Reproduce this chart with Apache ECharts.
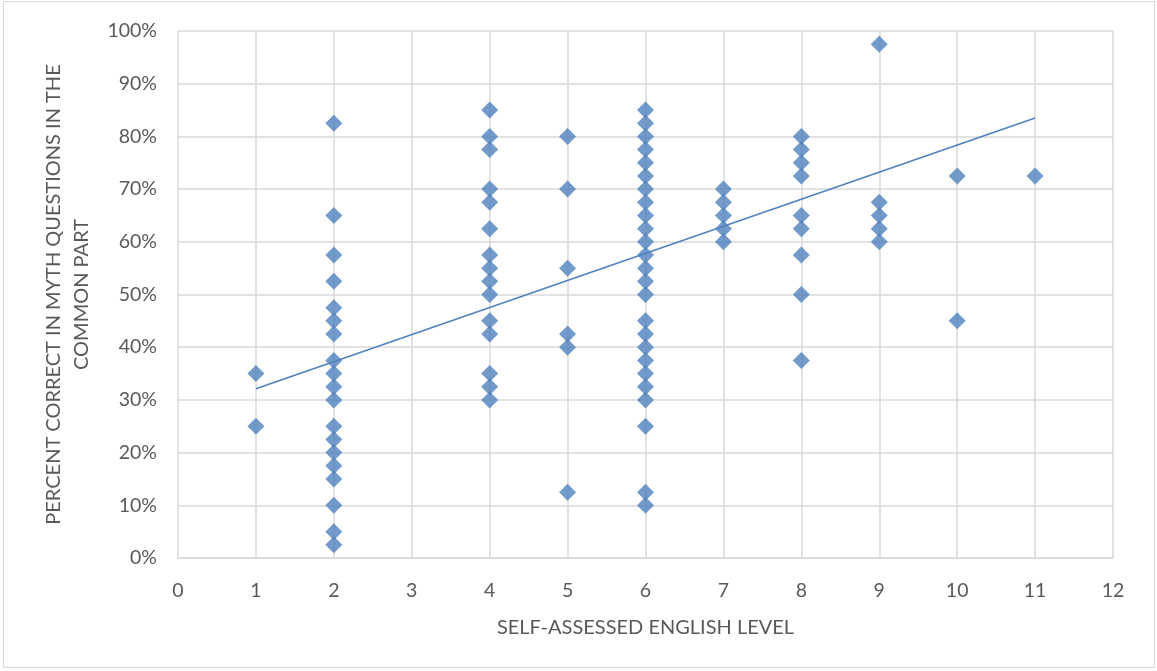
<!DOCTYPE html>
<html>
<head>
<meta charset="utf-8">
<script src="https://cdn.jsdelivr.net/npm/echarts@6/dist/echarts.min.js"></script>
<style>
	html, body {
		margin: 0;
		padding: 0;
		background: #fff;
	}

	#box {
		position: absolute;
		left: 3px;
		top: 1px;
		width: 1152px;
		height: 667px;
		border: 1px solid #d9d9d9;
		box-sizing: border-box;
	}

	#chart {
		position: absolute;
		left: 0;
		top: 0;
		width: 1157px;
		height: 671px;
	}
</style>
</head>

<body>
	<div id="box"></div>
	<div id="chart"></div>
<script>
	// percent correct (0-1) per self-assessed level
	var level1 = [0.35, 0.25];
	var level2 = [0.825, 0.65, 0.575, 0.525, 0.475, 0.45, 0.425, 0.375, 0.35, 0.325, 0.30, 0.25, 0.225, 0.20, 0.175, 0.15, 0.10, 0.05, 0.025];
	var level4 = [0.85, 0.80, 0.775, 0.70, 0.675, 0.625, 0.575, 0.55, 0.525, 0.50, 0.45, 0.425, 0.35, 0.325, 0.30];
	var level5 = [0.80, 0.70, 0.55, 0.425, 0.40, 0.125];
	var level6 = [0.85, 0.825, 0.80, 0.775, 0.75, 0.725, 0.70, 0.675, 0.65, 0.625, 0.60, 0.575, 0.55, 0.525, 0.50,
		0.45, 0.425, 0.40, 0.375, 0.35, 0.325, 0.30, 0.25, 0.125, 0.10];
	var level7 = [0.70, 0.675, 0.65, 0.625, 0.60];
	var level8 = [0.80, 0.775, 0.75, 0.725, 0.65, 0.625, 0.575, 0.50, 0.375];
	var level9 = [0.975, 0.675, 0.65, 0.625, 0.60];
	var level10 = [0.725, 0.45];
	var level11 = [0.725];

	var levels = [1, 2, 4, 5, 6, 7, 8, 9, 10, 11];
	var byLevel = [level1, level2, level4, level5, level6, level7, level8, level9, level10, level11];

	// linear trendline as drawn in the picture (ends at level 1 and 11)
	var trendX = [1, 11];
	var trendY = [0.321, 0.835];

	var points = [];
	for (var i = 0; i < levels.length; i++) {
		for (var j = 0; j < byLevel[i].length; j++) {
			points.push([levels[i], byLevel[i][j]]);
		}
	}
	var trend = trendX.map(function (x, k) { return [x, trendY[k]]; });

	var font = 'Lato';
	var grey = '#595959';
	var chart = echarts.init(document.getElementById('chart'));
	var option = {
		animation: false,
		textStyle: { fontFamily: font },
		grid: { left: 178, right: 44, top: 31, bottom: 113 },
		xAxis: {
			type: 'value',
			min: 0,
			max: 12,
			interval: 1,
			name: 'SELF-ASSESSED ENGLISH LEVEL',
			nameLocation: 'middle',
			nameGap: 60,
			nameTextStyle: { color: grey, fontSize: 20, fontFamily: font },
			axisLine: { show: true, lineStyle: { color: '#d9d9d9' } },
			axisTick: { show: false },
			axisLabel: { color: grey, fontSize: 19.5, margin: 23 },
			splitLine: { show: true, lineStyle: { color: '#d9d9d9', width: 1.5 } }
		},
		yAxis: {
			type: 'value',
			min: 0,
			max: 1,
			interval: 0.1,
			name: 'PERCENT CORRECT IN MYTH QUESTIONS IN THE\nCOMMON PART',
			nameLocation: 'middle',
			nameGap: 82,
			nameTextStyle: { color: grey, fontSize: 20, fontFamily: font, lineHeight: 28.5 },
			axisLine: { show: false },
			axisTick: { show: false },
			axisLabel: {
				color: grey, fontSize: 19.5, margin: 21,
				formatter: function (v) { return Math.round(v * 100) + '%'; }
			},
			splitLine: { show: true, lineStyle: { color: '#d9d9d9', width: 1.5 } }
		},
		series: [
			{
				type: 'scatter',
				data: points,
				symbol: 'diamond',
				symbolSize: 17,
				itemStyle: { color: '#4f81bd' },
				z: 3
			},
			{
				type: 'line',
				data: trend,
				symbol: 'none',
				lineStyle: { color: '#4f81bd', width: 1.5 },
				z: 4
			}
		]
	};
	chart.setOption(option);
</script>
</body>

</html>
